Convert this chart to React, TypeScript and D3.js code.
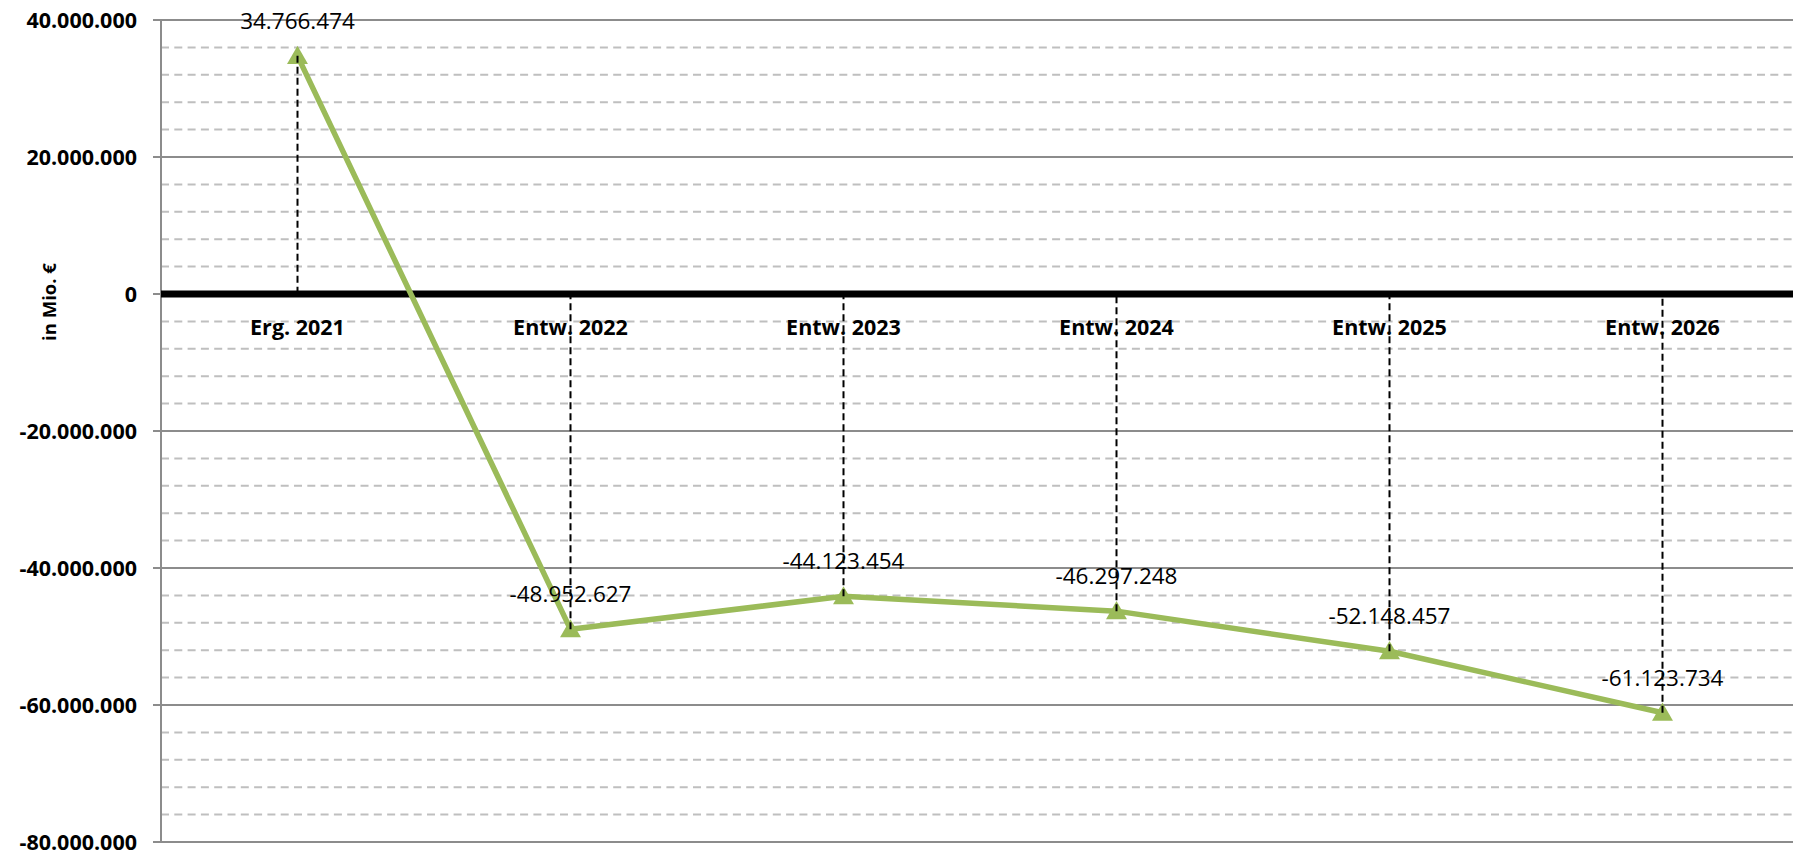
import React from "react";
import * as d3 from "d3";

const categories = ["Erg. 2021", "Entw. 2022", "Entw. 2023", "Entw. 2024", "Entw. 2025", "Entw. 2026"];
const values = [34766474, -48952627, -44123454, -46297248, -52148457, -61123734];
const majorTicks = [40000000, 20000000, 0, -20000000, -40000000, -60000000, -80000000];
const yTitle = "in Mio. €";

const W = 1793;
const H = 857;
const left = 161;
const top = 20;
const bottom = 842;
const bandRight = 1799;

const fmt = (v: number) => {
  const s = Math.abs(v).toString().replace(/\B(?=(\d{3})+(?!\d))/g, ".");
  return (v < 0 ? "-" : "") + s;
};

export default function App() {
  const x = d3.scaleBand<string>().domain(categories).range([left, bandRight]);
  const y = d3.scaleLinear().domain([-80000000, 40000000]).range([bottom, top]);
  const cx = (c: string) => (x(c) as number) + x.bandwidth() / 2;
  const minor = d3.range(-80000000, 40000001, 4000000).filter((v) => v % 20000000 !== 0);
  const line = d3
    .line<number>()
    .x((_, i) => cx(categories[i]))
    .y((d) => y(d));
  const tri = d3.symbol().type(d3.symbolTriangle).size(190)();
  const font = "'Open Sans', sans-serif";

  return (
    <svg width={W} height={H} style={{ position: "absolute", left: 0, top: 0, background: "#fff" }}>
      {minor.map((v) => (
        <line key={"m" + v} x1={left} x2={W} y1={y(v)} y2={y(v)} stroke="#bfbfbf" strokeWidth={2} strokeDasharray="8 5.3" />
      ))}
      {majorTicks.map((v) => (
        <g key={"M" + v}>
          {v !== 0 && <line x1={left} x2={W} y1={y(v)} y2={y(v)} stroke="#8c8c8c" strokeWidth={2} />}
          <line x1={153} x2={left} y1={y(v)} y2={y(v)} stroke="#8c8c8c" strokeWidth={2} />
          <text x={137} y={y(v)} dy="0.36em" textAnchor="end" fontFamily={font} fontWeight="bold" fontSize={21.5} fill="#000">
            {fmt(v)}
          </text>
        </g>
      ))}
      <line x1={left} x2={left} y1={top} y2={bottom} stroke="#8c8c8c" strokeWidth={2} />
      <line x1={left} x2={W} y1={y(0)} y2={y(0)} stroke="#000" strokeWidth={7} />
      <text
        transform={`translate(56,302) rotate(-90)`}
        textAnchor="middle"
        fontFamily={font}
        fontWeight="bold"
        fontSize={18.5}
        fill="#000"
      >
        {yTitle}
      </text>
      {categories.map((c) => (
        <text key={"c" + c} x={cx(c)} y={335} textAnchor="middle" fontFamily={font} fontWeight="bold" fontSize={21.5} fill="#000">
          {c}
        </text>
      ))}
      <path d={line(values) || ""} fill="none" stroke="#9bbb59" strokeWidth={5.5} strokeLinejoin="round" />
      {values.map((v, i) => (
        <path key={"t" + i} d={tri || ""} transform={`translate(${cx(categories[i])},${y(v) + 2})`} fill="#9bbb59" />
      ))}
      {values.map((v, i) => (
        <text key={"l" + i} x={cx(categories[i])} y={y(v) - 35} dy="0.36em" textAnchor="middle" fontFamily={font} fontSize={22.5} fill="#000">
          {fmt(v)}
        </text>
      ))}
      {values.map((v, i) => (
        <line
          key={"d" + i}
          x1={cx(categories[i])}
          x2={cx(categories[i])}
          y1={y(v)}
          y2={y(0)}
          stroke="#000"
          strokeWidth={2}
          strokeDasharray="7 4"
        />
      ))}
    </svg>
  );
}
